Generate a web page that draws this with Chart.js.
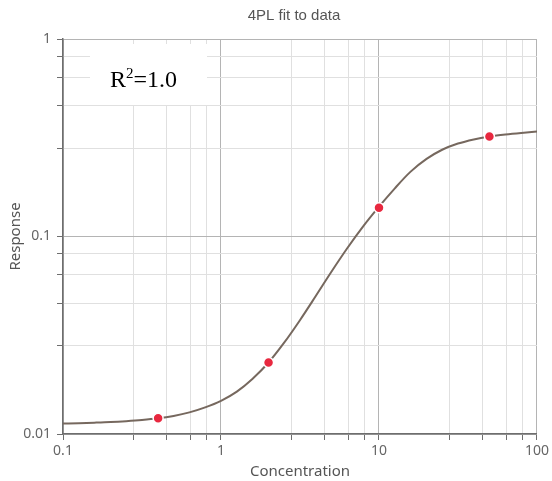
<!DOCTYPE html>
<html>
<head>
<meta charset="utf-8">
<script src="https://cdn.jsdelivr.net/npm/chart.js@4.4.1/dist/chart.umd.min.js"></script>
<style>
    body { margin: 0; background: #fff; }
    #wrap { width: 552px; height: 481px; }
</style>
</head>
<body>
<div id="wrap"><canvas id="fit-chart" width="552" height="481"></canvas></div>
<script>
// Measured points
const concentration = [0.4, 2, 10, 50];
const response = [0.012, 0.023, 0.14, 0.321];

// Fitted 4PL curve
const curveX = [0.1, 0.126, 0.158, 0.2, 0.251, 0.316, 0.398, 0.501, 0.631, 0.794,
                1, 1.26, 1.58, 2, 2.51, 3.16, 3.98, 5.01, 6.31, 7.94,
                10, 12.6, 15.8, 20, 25.1, 31.6, 39.8, 50.1, 63.1, 79.4, 100];
const curveY = [0.01130, 0.01135, 0.01141, 0.01149, 0.01161, 0.01177, 0.01200, 0.01235, 0.01287, 0.01364,
                0.01473, 0.01640, 0.01901, 0.02302, 0.02899, 0.03769, 0.04995, 0.06647, 0.08741, 0.1125,
                0.1416, 0.1754, 0.2124, 0.2470, 0.2749, 0.2956, 0.3102, 0.3208, 0.3286, 0.3347, 0.3398];

// Grid lines and labels
const xTicks = [0.1, 0.28, 0.45, 0.64, 0.81, 1, 2.8, 4.5, 6.4, 8.1, 10, 28, 45, 64, 81, 100];
const xLabels = ['0.1', '1', '10', '100'];
const yTicks = [0.01, 0.028, 0.046, 0.064, 0.082, 0.1, 0.28, 0.46, 0.64, 0.82, 1];
const yLabels = ['0.01', '0.1', '1'];

const fontSans = '"Noto Sans", sans-serif';

// Tiêu đề và ô R²
const extrasPlugin = {
    id: 'extras',
    beforeDatasetsDraw(chart) {
        const ctx = chart.ctx;
        ctx.save();
        // white box over the grid
        ctx.fillStyle = '#fff';
        ctx.fillRect(90, 44, 117, 61);
        ctx.fillStyle = '#000';
        ctx.textBaseline = 'alphabetic';
        ctx.textAlign = 'left';
        ctx.font = '24px "Liberation Serif", serif';
        let x = 110;
        const base = 87;
        ctx.fillText('R', x, base);
        x += ctx.measureText('R').width;
        ctx.font = '15px "Liberation Serif", serif';
        ctx.fillText('2', x, base - 9);
        x += ctx.measureText('2').width;
        ctx.font = '24px "Liberation Serif", serif';
        ctx.fillText('=1.0', x, base);
        ctx.restore();
    },
    afterDraw(chart) {
        const ctx = chart.ctx;
        ctx.save();
        ctx.fillStyle = '#555';
        ctx.font = '15px "Liberation Sans", Arial, sans-serif';
        ctx.textAlign = 'center';
        ctx.textBaseline = 'middle';
        ctx.fillText('4PL fit to data', 294, 16);
        ctx.restore();
    }
};

function gridColor(ctx) {
    const v = ctx.tick ? ctx.tick.value : null;
    const lg = Math.log10(v);
    if (Math.abs(lg - Math.round(lg)) < 1e-6) return '#b4b4b4';
    return '#e0e0e0';
}

new Chart(document.getElementById('fit-chart'), {
    type: 'scatter',
    data: {
        datasets: [
            {
                label: 'Data',
                data: concentration.map((c, i) => ({ x: c, y: response[i] })),
                backgroundColor: '#e8283f',
                borderColor: '#ffffff',
                borderWidth: 1.5,
                pointRadius: 5,
                pointHoverRadius: 5
            },
            {
                label: '4PL fit',
                type: 'line',
                data: curveX.map((c, i) => ({ x: c, y: curveY[i] })),
                borderColor: '#76685e',
                borderWidth: 2,
                pointRadius: 0,
                fill: false,
                cubicInterpolationMode: 'monotone'
            }
        ]
    },
    options: {
        responsive: false,
        animation: false,
        layout: { padding: { left: 7, right: 12, top: 39, bottom: 0 } },
        plugins: {
            legend: { display: false },
            tooltip: { enabled: false }
        },
        scales: {
            x: {
                type: 'logarithmic',
                min: 0.1,
                max: 100,
                afterBuildTicks: scale => { scale.ticks = xTicks.map(v => ({ value: v })); },
                afterFit: scale => { scale.height = 47; },
                border: { color: '#6e6e6e', width: 1.5 },
                grid: { color: gridColor, tickColor: '#6e6e6e', tickLength: 6 },
                ticks: {
                    autoSkip: false,
                    maxRotation: 0,
                    padding: 3,
                    color: '#666',
                    font: { family: fontSans, size: 14 },
                    callback: value => {
                        const lbl = xLabels.find(l => Math.abs(parseFloat(l) - value) < 1e-9);
                        return lbl || '';
                    }
                },
                title: {
                    display: true,
                    text: 'Concentration',
                    color: '#555',
                    font: { family: fontSans, size: 15 },
                    padding: { top: 0, bottom: 0 }
                }
            },
            y: {
                type: 'logarithmic',
                min: 0.01,
                max: 1,
                afterBuildTicks: scale => { scale.ticks = yTicks.map(v => ({ value: v })); },
                afterFit: scale => { scale.width = 56; },
                border: { color: '#6e6e6e', width: 1.5 },
                grid: { color: gridColor, tickColor: '#6e6e6e', tickLength: 6 },
                ticks: {
                    autoSkip: false,
                    padding: 6,
                    color: '#666',
                    font: { family: fontSans, size: 14 },
                    callback: value => {
                        const lbl = yLabels.find(l => Math.abs(parseFloat(l) - value) < 1e-9);
                        return lbl || '';
                    }
                },
                title: {
                    display: true,
                    text: 'Response',
                    color: '#555',
                    font: { family: fontSans, size: 15 },
                    padding: { top: 0, bottom: 0 }
                }
            }
        }
    },
    plugins: [extrasPlugin]
});
</script>
</body>
</html>
